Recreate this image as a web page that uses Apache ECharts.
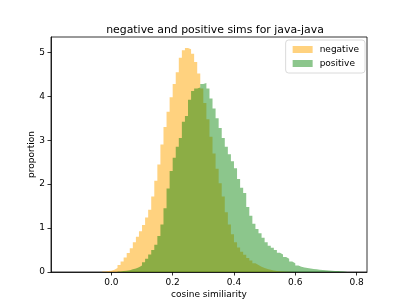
<!DOCTYPE html>
<html><head><meta charset="utf-8">
<script src="https://cdn.jsdelivr.net/npm/echarts@6/dist/echarts.min.js"></script>
<style>html,body{margin:0;padding:0;background:#fff}#c{width:408px;height:306px}</style>
</head><body><div id="c"></div>
<script>
const binWidth = 0.01;
const negStart = -0.03;
const negValues = [0.01,0.02,0.03,
 0.05,0.09,0.16,0.24,0.33,0.43,0.54,0.68,0.80,0.93,
 1.07,1.24,1.42,1.72,2.08,2.45,2.90,3.30,3.65,3.98,
 4.28,4.55,4.88,5.05,5.10,5.07,4.97,4.78,4.52,4.18,
 3.85,3.48,3.08,2.70,2.35,2.02,1.72,1.36,1.08,0.86,
 0.68,0.56,0.46,0.39,0.32,0.26,0.20,0.16,0.12,0.09,
 0.07,0.05,0.035,0.025,0.016,0.01,0.006,0.004,0.002];
const posStart = 0.02;
const posValues = [0.01,0.02,0.03,0.04,0.06,0.08,0.11,0.15,
 0.22,0.30,0.40,0.50,0.62,0.82,1.08,1.45,1.90,2.30,
 2.60,2.85,3.05,3.42,3.55,3.92,4.12,4.18,4.20,4.28,
 4.30,4.18,3.95,3.72,3.50,3.28,3.05,2.85,2.68,2.52,
 2.36,2.12,1.92,1.80,1.48,1.28,1.10,0.98,0.88,0.78,
 0.68,0.60,0.55,0.50,0.44,0.40,0.34,0.30,0.24,0.20,
 0.15,0.12,0.10,0.09,0.08,0.07,0.06,0.05,0.045,0.04,
 0.035,0.03,0.025,0.02,0.015,0.01,0.005];
const xTicks = [0, 0.2, 0.4, 0.6, 0.8];
const yTicks = [0, 1, 2, 3, 4, 5];
const seriesNames = ['negative', 'positive'];
const titleText = 'negative and positive sims for java-java';
const xName = 'cosine similiarity';
const yName = 'proportion';

function stepData(start, vals) {
  const d = vals.map((v, i) => [start + i * binWidth, v]);
  d.push([start + vals.length * binWidth, vals[vals.length - 1]]);
  d.push([start + vals.length * binWidth, 0]);
  return d;
}
const font = 'DejaVu Sans';
const negColor = 'rgba(255,165,0,0.5)';
const posColor = 'rgba(0,128,0,0.45)';
const chart = echarts.init(document.getElementById('c'), null, {renderer: 'canvas'});
chart.setOption({
  animation: false,
  backgroundColor: '#fff',
  title: {text: titleText, left: 210, top: 20, textAlign: 'center',
    textStyle: {fontFamily: font, fontSize: 10.9, fontWeight: 'normal', color: '#000'}},
  grid: {left: 51, right: 41, top: 37, bottom: 34, show: true, borderColor: '#000', borderWidth: 0.8, backgroundColor: 'transparent'},
  legend: {
    right: 43, top: 40, orient: 'vertical', itemGap: 5, itemWidth: 20, itemHeight: 7,
    padding: [5, 6, 5, 7], borderColor: '#d0d0d0', borderWidth: 0.8, borderRadius: 3,
    backgroundColor: 'rgba(255,255,255,0.8)',
    textStyle: {fontFamily: font, fontSize: 9, color: '#000', padding: [0,0,0,2]},
    data: [
      {name: seriesNames[0], icon: 'rect', itemStyle: {color: negColor}},
      {name: seriesNames[1], icon: 'rect', itemStyle: {color: posColor}}
    ]
  },
  xAxis: {
    type: 'value', min: -0.197, max: 0.834,
    name: xName, nameLocation: 'middle', nameGap: 18, nameMoveOverlap: false,
    nameTextStyle: {fontFamily: font, fontSize: 9, color: '#000'},
    axisLine: {show: true, onZero: false, lineStyle: {color: '#000', width: 0.8}},
    axisTick: {show: true, length: 3.5, customValues: xTicks, lineStyle: {color: '#000', width: 0.8}},
    axisLabel: {margin: 6, customValues: xTicks, fontFamily: font, fontSize: 9, color: '#000',
      formatter: v => v.toFixed(1)},
    splitLine: {show: false}
  },
  yAxis: {
    type: 'value', min: 0, max: 5.35,
    name: yName, nameLocation: 'middle', nameGap: 15, nameRotate: 90, nameMoveOverlap: false,
    nameTextStyle: {fontFamily: font, fontSize: 9, color: '#000'},
    axisLine: {show: true, onZero: false, lineStyle: {color: '#000', width: 0.8}},
    axisTick: {show: true, length: 3.5, customValues: yTicks, lineStyle: {color: '#000', width: 0.8}},
    axisLabel: {margin: 6, customValues: yTicks, fontFamily: font, fontSize: 9, color: '#000'},
    splitLine: {show: false}
  },
  series: [
    {name: seriesNames[0], type: 'line', step: 'end', data: stepData(negStart, negValues),
      showSymbol: false, symbol: 'none', lineStyle: {width: 0, opacity: 0},
      itemStyle: {color: negColor}, areaStyle: {color: negColor, opacity: 1}, z: 2},
    {name: seriesNames[1], type: 'line', step: 'end', data: stepData(posStart, posValues),
      showSymbol: false, symbol: 'none', lineStyle: {width: 0, opacity: 0},
      itemStyle: {color: posColor}, areaStyle: {color: posColor, opacity: 1}, z: 3}
  ]
});
</script></body></html>
